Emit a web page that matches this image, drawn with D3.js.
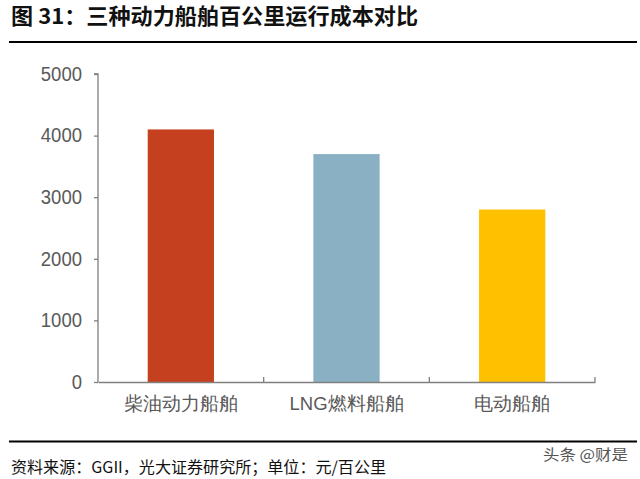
<!DOCTYPE html>
<html><head><meta charset="utf-8">
<script src="https://cdn.jsdelivr.net/npm/d3@7"></script>
<style>body{margin:0;background:#fff;}svg{display:block;font-family:"Noto Sans CJK SC","Noto Sans",sans-serif;}</style>
</head><body>
<svg id="c" width="640" height="479"></svg>
<script>
const categories = ["柴油动力船舶", "LNG燃料船舶", "电动船舶"];
const values = [4100, 3700, 2800];
const colors = ["#C5401F", "#8AB0C4", "#FFC000"];
const yTicks = [0, 1000, 2000, 3000, 4000, 5000];

const svg = d3.select("#c");
const m = {left: 98, right: 595, top: 74, bottom: 382};

svg.append("text").attr("x", 11).attr("y", 24).attr("font-size", 21.5).attr("font-weight", "bold")
  .attr("fill", "#111").attr("textLength", 407).attr("lengthAdjust", "spacingAndGlyphs")
  .text("图 31：三种动力船舶百公里运行成本对比");
svg.append("line").attr("x1", 9).attr("x2", 637).attr("y1", 42).attr("y2", 42).attr("stroke", "#000").attr("stroke-width", 2.2);
svg.append("line").attr("x1", 9).attr("x2", 637).attr("y1", 441.5).attr("y2", 441.5).attr("stroke", "#000").attr("stroke-width", 2.2);
svg.append("text").attr("x", 11).attr("y", 473).attr("font-size", 16).attr("fill", "#111")
  .attr("textLength", 375).attr("lengthAdjust", "spacingAndGlyphs")
  .text("资料来源：GGII，光大证券研究所；单位：元/百公里");
svg.append("text").attr("x", 543).attr("y", 460).attr("font-size", 14.5).attr("fill", "#555")
  .attr("textLength", 85).attr("lengthAdjust", "spacingAndGlyphs")
  .text("头条 @财是");

const x = d3.scaleBand().domain(categories).range([m.left, m.right]).paddingInner(0).paddingOuter(0);
const y = d3.scaleLinear().domain([0, 5000]).range([m.bottom, m.top]);

const bw = x.bandwidth() * 0.4;
svg.selectAll("rect.bar").data(values).join("rect").attr("class", "bar")
  .attr("x", (d, i) => x(categories[i]) + (x.bandwidth() - bw) / 2)
  .attr("width", bw)
  .attr("y", d => y(d))
  .attr("height", d => y(0) - y(d))
  .attr("fill", (d, i) => colors[i]);

const yAxis = svg.append("g").attr("transform", `translate(${m.left},0)`)
  .call(d3.axisLeft(y).tickValues(yTicks).tickSize(4).tickPadding(12).tickFormat(d3.format("d")));
yAxis.select(".domain").attr("stroke", "#7f7f7f").attr("stroke-width", 1.3).attr("d", `M-4,${m.top}H0V${m.bottom}`);
yAxis.selectAll(".tick line").attr("stroke", "#7f7f7f").attr("stroke-width", 1.3);
yAxis.selectAll(".tick text").attr("fill", "#595959").attr("font-size", 19.5)
  .attr("font-family", "Liberation Sans, Arial, sans-serif")
  .attr("textLength", d => String(d).length * 10.3).attr("lengthAdjust", "spacingAndGlyphs");

const xAxis = svg.append("g").attr("transform", `translate(0,${m.bottom})`)
  .call(d3.axisBottom(x).tickSize(0).tickPadding(15));
xAxis.select(".domain").attr("stroke", "#7f7f7f").attr("stroke-width", 1.3);
xAxis.selectAll(".tick text").attr("fill", "#595959").attr("font-size", 18.5);
const bounds = categories.map((c, i) => x(c) + x.bandwidth());
xAxis.selectAll("line.bt").data(bounds).join("line").attr("class", "bt")
  .attr("x1", d => d).attr("x2", d => d).attr("y1", 0).attr("y2", -5)
  .attr("stroke", "#7f7f7f").attr("stroke-width", 1.3);
</script>
</body></html>
